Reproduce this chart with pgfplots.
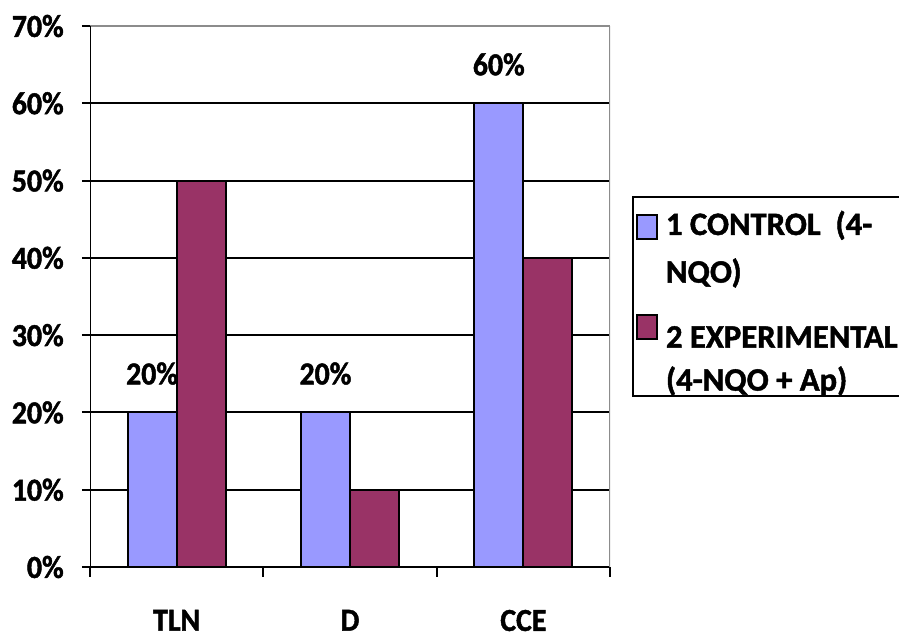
\documentclass[border=0pt]{standalone}
\usepackage{fontspec}
\setmainfont{Carlito}[FakeStretch=0.93, FakeBold=1.4]
\newfontfamily\legfont{Carlito}[FakeBold=1.4]
\usepackage{pgfplots}
\pgfplotsset{compat=1.18}
\definecolor{ctrl}{HTML}{9999FF}
\definecolor{expc}{HTML}{993366}
\begin{document}
\begin{tikzpicture}
\begin{axis}[
  set layers,
  /pgf/number format/assume math mode=true,
  scale only axis,
  width=390pt, height=405.75pt,
  xmin=0, xmax=3, ymin=0, ymax=70,
  axis line style={draw=none},
  ytick={0,10,...,60},
  extra y ticks={70},
  extra y tick style={grid style={gray!90, line width=1.5pt}},
  yticklabel={\pgfmathprintnumber{\tick}\%},
  ymajorgrids,
  grid style={black, line width=1.5pt},
  tick align=outside,
  xtick pos=bottom, ytick pos=left,
  major tick length=6pt,
  y tick style={black, line width=1.5pt},
  xtick={0.5,1.5,2.5},
  xticklabels={TLN,D,CCE},
  minor xtick={0,1,2,3},
  major x tick style={draw=none},
  minor x tick style={black, line width=1.5pt},
  minor tick length=7.5pt,
  tick label style={font=\fontsize{24}{28}\selectfont\bfseries},
  yticklabel style={inner sep=0pt, anchor=east, xshift=-13.5pt},
  xticklabel style={inner sep=0pt, anchor=north, yshift=-26pt},
  bar width=0.283,
  legend style={
    at={(1.0423,0.6858)}, anchor=north west,
    draw=black, line width=1.5pt,
    font=\legfont\fontsize{24.5}{28}\selectfont\bfseries,
    inner sep=2.25pt,
    row sep=10.5pt, column sep=6pt,
    nodes={inner sep=0pt, text height=26.25pt, text depth=1.5pt},
  },
  legend cell align=left,
]
\addplot[ybar, bar shift=0, fill=ctrl, draw=black, line width=1.5pt,
  legend image code/.code={\draw[fill=ctrl, draw=black, line width=1.5pt] (0pt,-15.1pt) rectangle (15pt,2.9pt);},
  nodes near coords={\pgfmathprintnumber{\pgfplotspointmeta}\%},
  every node near coord/.append style={font=\fontsize{24}{28}\selectfont\bfseries, inner sep=0pt, anchor=base, yshift=21pt, black}]
  coordinates {(0.3585,20) (1.3585,20) (2.3585,60)};
\addlegendentry{1 CONTROL~ (4-}
\addlegendimage{empty legend}
\addlegendentry{\raisebox{4.5pt}{NQO)}}
\addplot[ybar, bar shift=0, fill=expc, draw=black, line width=1.5pt, on layer=axis foreground,
  legend image code/.code={\draw[fill=expc, draw=black, line width=1.5pt] (0pt,-12.1pt) rectangle (15pt,5.9pt);}]
  coordinates {(0.6415,50) (1.6415,10) (2.6415,40)};
\addlegendentry{\raisebox{-6pt}{2 EXPERIMENTAL}}
\addlegendimage{empty legend}
\addlegendentry{(4-NQO + Ap)}
\draw[black, line width=1.5pt] (rel axis cs:0,0) -- (rel axis cs:0,1);
\draw[gray!90, line width=1.5pt] (rel axis cs:1,0) -- (rel axis cs:1,1);
\end{axis}
\pgfresetboundingbox
\path[use as bounding box] (-67.5pt,-53.25pt) rectangle (606.75pt,425.25pt);
\end{tikzpicture}
\end{document}
